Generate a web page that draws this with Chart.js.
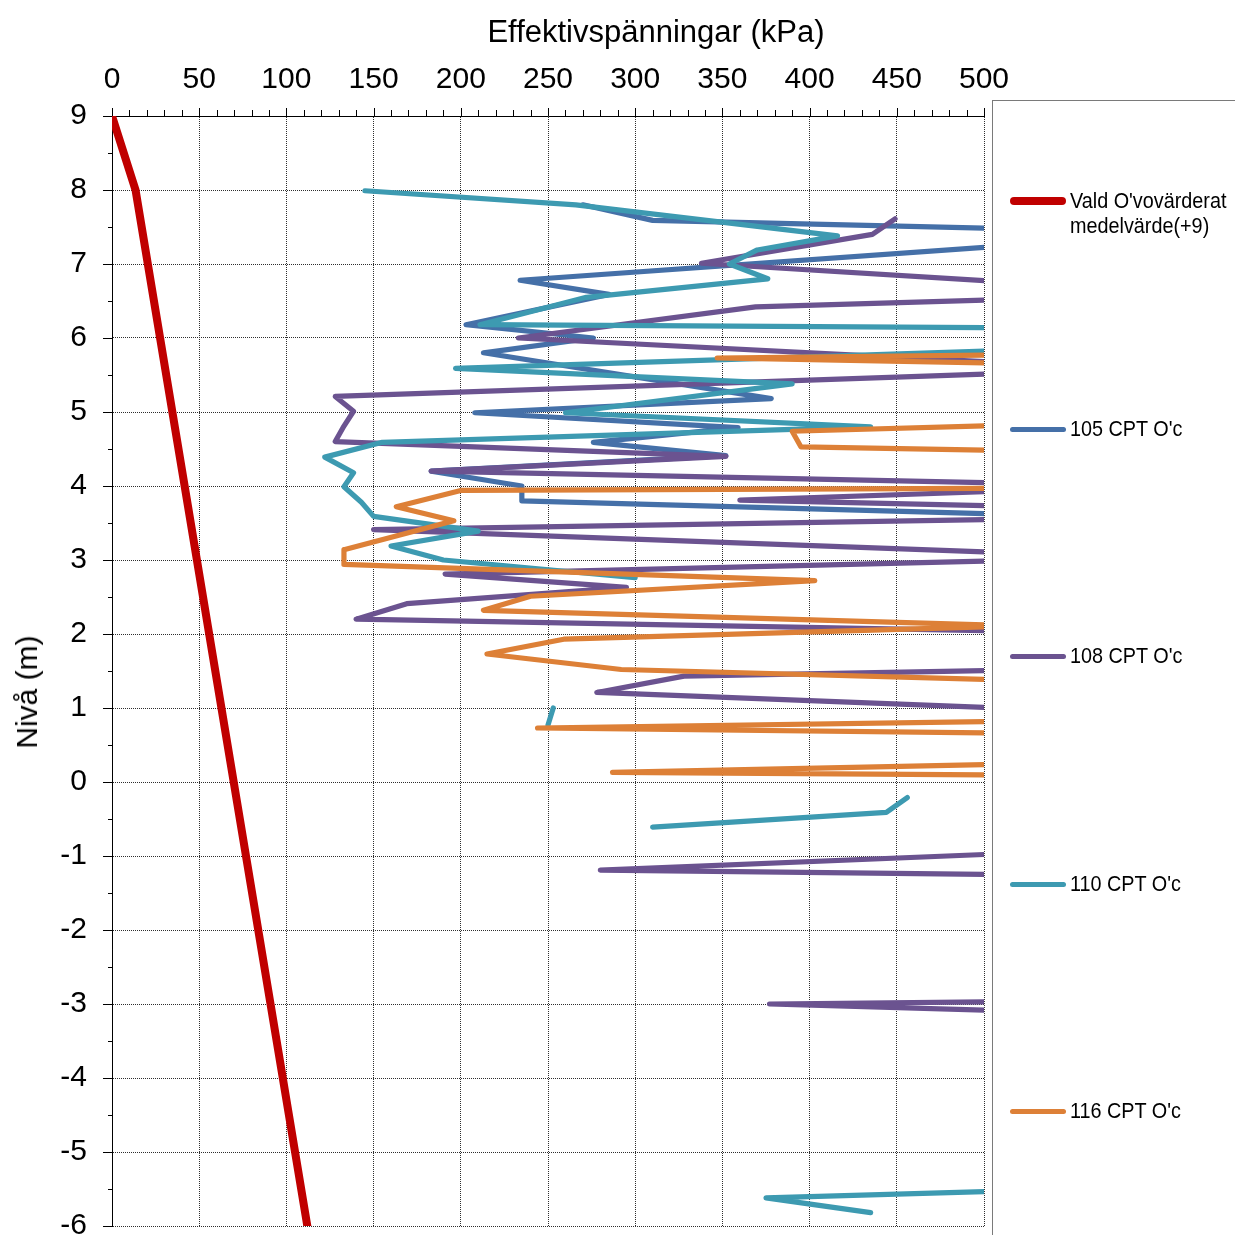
<!DOCTYPE html>
<html>
<head>
<meta charset="utf-8">
<script src="https://cdn.jsdelivr.net/npm/chart.js@4.4.1/dist/chart.umd.min.js"></script>
<style>
  html, body { margin: 0; padding: 0; background: #fff; }
  #wrap { position: relative; width: 1235px; height: 1235px; overflow: hidden;
          font-family: 'Liberation Sans', Arial, sans-serif; color: #000; }
  #chart { position: absolute; left: 0; top: 0; }
  .axis-title { position: absolute; white-space: nowrap; line-height: 1; }
  #legendBox { position: absolute; left: 992px; top: 100px; width: 300px; height: 1200px;
               border-left: 1px solid #7a7a7a; border-top: 1px solid #7a7a7a; }
  .swatch { position: absolute; }
  .ltext { position: absolute; font-size: 22px; line-height: 24.5px; width: 180px;
           transform: scaleX(0.9); transform-origin: 0 0; white-space: normal; }
</style>
</head>
<body>
<div id="wrap">
  <canvas id="chart" width="1235" height="1235"></canvas>
  <div class="axis-title" id="xTitle" style="left:656px; top:31px; font-size:31px; transform:translate(-50%,-50%);">Effektivspänningar (kPa)</div>
  <div class="axis-title" id="yTitle" style="left:27px; top:692px; font-size:30px; transform:translate(-50%,-50%) rotate(-90deg);">Nivå (m)</div>
  <div id="legendBox"></div>
</div>
<script>
// ---------------- data ----------------
const seriesLabels = ["Vald O'vovärderat medelvärde(+9)", "105 CPT O'c", "108 CPT O'c", "110 CPT O'c", "116 CPT O'c"];

const stressTicks = [0, 50, 100, 150, 200, 250, 300, 350, 400, 450, 500];
const levelTicks = [-6, -5, -4, -3, -2, -1, 0, 1, 2, 3, 4, 5, 6, 7, 8, 9];

// Vald O'vovärderat medelvärde(+9)
const medelStress = [0, 13.5, 112];
const medelLevel  = [9, 8, -6];

// 105 CPT O'c
const cpt105Stress = [270, 310, 510, 510, 234, 285, 203, 276, 213, 378, 208, 359, 276, 352, 183, 235, 235, 510];
const cpt105Level  = [7.80, 7.59, 7.48, 7.24, 6.78, 6.59, 6.18, 6.00, 5.80, 5.18, 4.99, 4.79, 4.59, 4.41, 4.20, 4.00, 3.80, 3.62];

// 108 CPT O'c
const cpt108Stress = [449, 436, 338, 510, 510, 369, 233, 510, 510, 128, 138.5, 133, 128, 352, 183, 510, 510, 360, 510, 510,
                      150, 510, 510, 191, 295, 169, 140, 510, 510, 328, 278, 510, 510, 280, 510, 510, 377, 510];
const cpt108Level  = [7.61, 7.40, 7.01, 6.76, 6.52, 6.42, 6.00, 5.67, 5.52, 5.21, 5.01, 4.81, 4.60, 4.40, 4.20, 4.04, 3.93, 3.81, 3.73, 3.55,
                      3.41, 3.10, 2.99, 2.81, 2.63, 2.41, 2.20, 2.04, 1.51, 1.43, 1.21, 1.00, -0.97, -1.19, -1.25, -2.97, -3.00, -3.09];

// 110 CPT O'c
const cpt110Stress = [145, 266, 416, 370, 354, 376, 272, 211, 510, 510, 197, 390, 260, 435, 155, 122, 138.5, 133, 143, 150,
                      210, 160, 190, 300, null, 253, 250, null, 456, 444, 310, null, 510, 375, 435];
const cpt110Level  = [7.99, 7.80, 7.38, 7.19, 7.00, 6.80, 6.55, 6.18, 6.14, 5.83, 5.59, 5.38, 4.99, 4.80, 4.59, 4.39, 4.18, 3.99, 3.78, 3.59,
                      3.39, 3.19, 3.00, 2.76, null, 1.00, 0.77, null, -0.21, -0.41, -0.61, null, -5.53, -5.62, -5.82];

// 116 CPT O'c
const cpt116Stress = [510, 347, 510, 510, 390, 395, 510, 510, 200, 163, 196, 133, 133, 403, 240, 213, 520, 259, 215, 292,
                      510, 510, 244, 510, 510, 287, 510];
const cpt116Level  = [5.77, 5.73, 5.66, 4.82, 4.74, 4.53, 4.48, 3.97, 3.94, 3.72, 3.53, 3.14, 2.94, 2.72, 2.51, 2.32, 2.11, 1.93, 1.73, 1.52,
                      1.38, 0.82, 0.73, 0.66, 0.24, 0.13, 0.095];

// ---------------- styles ----------------
const seriesColors = ['#C00000', '#4570A8', '#6B5390', '#3D9AB1', '#DD8037'];
const seriesWidths = [8, 5.2, 5.2, 5.2, 5.2];
const seriesOrder  = [0, 4, 3, 2, 1];
const legendRowY   = [201, 429, 656, 884, 1111];

const stressSeries = [medelStress, cpt105Stress, cpt108Stress, cpt110Stress, cpt116Stress];
const levelSeries  = [medelLevel, cpt105Level, cpt108Level, cpt110Level, cpt116Level];

function toPoints(xs, ys) { return xs.map((v, i) => ({ x: v, y: ys[i] })); }

const FONT = "'Liberation Sans', Arial, sans-serif";
Chart.defaults.font.family = FONT;
Chart.defaults.color = '#000';

const tickMarks = {
  id: 'tickMarks',
  afterDraw(chart) {
    const { ctx, chartArea: a, scales: { x, y } } = chart;
    ctx.save();
    ctx.strokeStyle = '#000';
    ctx.lineWidth = 1;
    ctx.beginPath();
    const xMin = stressTicks[0], xMax = stressTicks[stressTicks.length - 1];
    for (let v = xMin; v <= xMax + 0.001; v += 10) {
      const p = Math.round(x.getPixelForValue(v)) + 0.5;
      const len = (Math.round(v) % 50 === 0) ? 8 : 6;
      ctx.moveTo(p, a.top);
      ctx.lineTo(p, a.top - len);
    }
    const yMin = levelTicks[0], yMax = levelTicks[levelTicks.length - 1];
    const n = Math.round((yMax - yMin) / 0.5);
    for (let i = 0; i <= n; i++) {
      const v = yMin + i * 0.5;
      const p = Math.round(y.getPixelForValue(v)) + 0.5;
      const len = (i % 2 === 0) ? 9 : 4;
      ctx.moveTo(a.left, p);
      ctx.lineTo(a.left - len, p);
    }
    ctx.stroke();
    ctx.restore();
  }
};

const datasets = seriesLabels.map((label, i) => ({
  label,
  data: toPoints(stressSeries[i], levelSeries[i]),
  borderColor: seriesColors[i],
  backgroundColor: seriesColors[i],
  borderWidth: seriesWidths[i],
  pointRadius: 0,
  pointHoverRadius: 0,
  fill: false,
  tension: 0,
  spanGaps: false,
  clip: 0,
  borderCapStyle: 'round',
  borderJoinStyle: 'round',
  order: seriesOrder[i]
}));

new Chart(document.getElementById('chart'), {
  type: 'line',
  data: { datasets },
  options: {
    responsive: false,
    animation: false,
    events: [],
    layout: { padding: { left: 0, top: 0, right: 251, bottom: 9 } },
    plugins: { legend: { display: false }, tooltip: { enabled: false }, title: { display: false } },
    scales: {
      x: {
        type: 'linear',
        position: 'top',
        min: stressTicks[0],
        max: stressTicks[stressTicks.length - 1],
        ticks: { stepSize: stressTicks[1] - stressTicks[0], padding: 18, font: { size: 30, family: FONT }, color: '#000', maxRotation: 0 },
        grid: { color: '#2e2e2e', lineWidth: 1, drawTicks: false },
        border: { display: true, color: '#000', width: 1, dash: [1, 1] },
        afterFit(s) { s.height = 116; s.paddingLeft = 0; s.paddingRight = 0; }
      },
      y: {
        type: 'linear',
        position: 'left',
        min: levelTicks[0],
        max: levelTicks[levelTicks.length - 1],
        ticks: { stepSize: levelTicks[1] - levelTicks[0], padding: 25, font: { size: 30, family: FONT }, color: '#000' },
        grid: { color: '#2e2e2e', lineWidth: 1, drawTicks: false },
        border: { display: true, color: '#000', width: 1, dash: [1, 1] },
        afterFit(s) { s.width = 112; s.paddingTop = 0; s.paddingBottom = 0; }
      }
    }
  },
  plugins: [tickMarks]
});

// ---------------- legend (HTML) ----------------
const wrap = document.getElementById('wrap');
seriesLabels.forEach((label, i) => {
  const h = i === 0 ? 8 : 5;
  const sw = document.createElement('div');
  sw.className = 'swatch';
  sw.style.left = '1010px';
  sw.style.width = '56px';
  sw.style.height = h + 'px';
  sw.style.top = (legendRowY[i] - h / 2) + 'px';
  sw.style.borderRadius = (h / 2) + 'px';
  sw.style.background = seriesColors[i];
  wrap.appendChild(sw);
  const t = document.createElement('div');
  t.className = 'ltext';
  t.style.left = '1070px';
  t.style.top = (legendRowY[i] - 12) + 'px';
  t.textContent = label;
  wrap.appendChild(t);
});
</script>
</body>
</html>
